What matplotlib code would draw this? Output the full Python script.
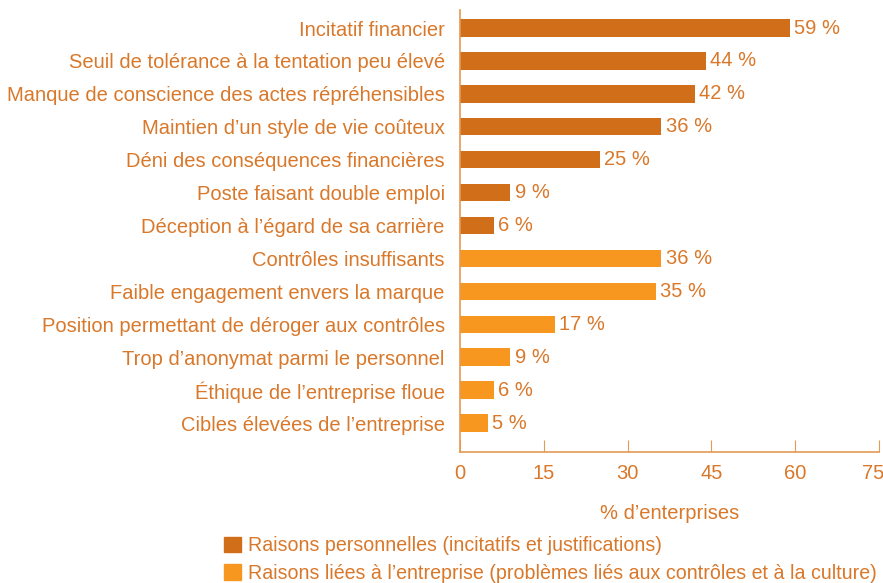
import matplotlib.pyplot as plt
import matplotlib.patches as mpatches
import matplotlib.transforms as mtransforms

plt.rcParams['font.family'] = ['Liberation Sans', 'DejaVu Sans']

# categories et valeurs (% d'entreprises)
raisons_perso = ["Incitatif financier",
                 "Seuil de tolérance à la tentation peu élevé",
                 "Manque de conscience des actes répréhensibles",
                 "Maintien d\u2019un style de vie coûteux",
                 "Déni des conséquences financières",
                 "Poste faisant double emploi",
                 "Déception à l\u2019égard de sa carrière"]
valeurs_perso = [59, 44, 42, 36, 25, 9, 6]

raisons_entreprise = ["Contrôles insuffisants",
                      "Faible engagement envers la marque",
                      "Position permettant de déroger aux contrôles",
                      "Trop d\u2019anonymat parmi le personnel",
                      "Éthique de l\u2019entreprise floue",
                      "Cibles élevées de l\u2019entreprise"]
valeurs_entreprise = [36, 35, 17, 9, 6, 5]

ticks_x = [0, 15, 30, 45, 60, 75]

couleur_perso = "#D16E19"
couleur_ent = "#F7971F"
couleur_texte = "#D9782A"
couleur_axe = "#E39A55"
fs = 14.5

fig = plt.figure(figsize=(8.83, 5.83), dpi=100)
ax = fig.add_axes([0.521, 0.2247, 0.4745, 0.7583])

etiquettes = raisons_perso + raisons_entreprise
valeurs = valeurs_perso + valeurs_entreprise
couleurs = [couleur_perso] * len(valeurs_perso) + [couleur_ent] * len(valeurs_entreprise)
pos = list(range(len(valeurs)))

ax.barh(pos, valeurs, height=0.53, color=couleurs)
for p, v in zip(pos, valeurs):
    ax.text(v + 0.8, p, f"{v} %", va="center", ha="left", fontsize=fs, color=couleur_texte)

ax.set_ylim(12.88, -0.55)
ax.set_xlim(0, 75)
ax.set_yticks(pos)
ax.set_yticklabels(etiquettes, fontsize=fs, color=couleur_texte)
ax.tick_params(axis="y", length=0, pad=11)
ax.set_xticks(ticks_x)
ax.set_xticklabels([str(t) for t in ticks_x], fontsize=fs, color=couleur_texte)
ax.tick_params(axis="x", direction="in", length=9, color=couleur_axe, pad=9)
ax.set_xlabel("% d\u2019enterprises", fontsize=fs, color=couleur_texte, labelpad=15)

# le dernier label (75) un peu vers la gauche pour rester dans l'image
dernier = ax.get_xticklabels()[-1]
dernier.set_transform(dernier.get_transform() +
                      mtransforms.ScaledTranslation(-6 / 100, 0, fig.dpi_scale_trans))

for s in ["top", "right"]:
    ax.spines[s].set_visible(False)
for s in ["left", "bottom"]:
    ax.spines[s].set_color(couleur_axe)
    ax.spines[s].set_linewidth(1.2)

p1 = mpatches.Patch(color=couleur_perso, label="Raisons personnelles (incitatifs et justifications)")
p2 = mpatches.Patch(color=couleur_ent, label="Raisons liées à l\u2019entreprise (problèmes liés aux contrôles et à la culture)")
leg = fig.legend(handles=[p1, p2], loc="upper left", bbox_to_anchor=(0.254, 0.08),
                 frameon=False, fontsize=14.1, handlelength=0.85, handleheight=0.85,
                 handletextpad=0.35, labelspacing=0.44, borderaxespad=0, borderpad=0)
for t in leg.get_texts():
    t.set_color(couleur_texte)

plt.savefig("out.png", dpi=100)
